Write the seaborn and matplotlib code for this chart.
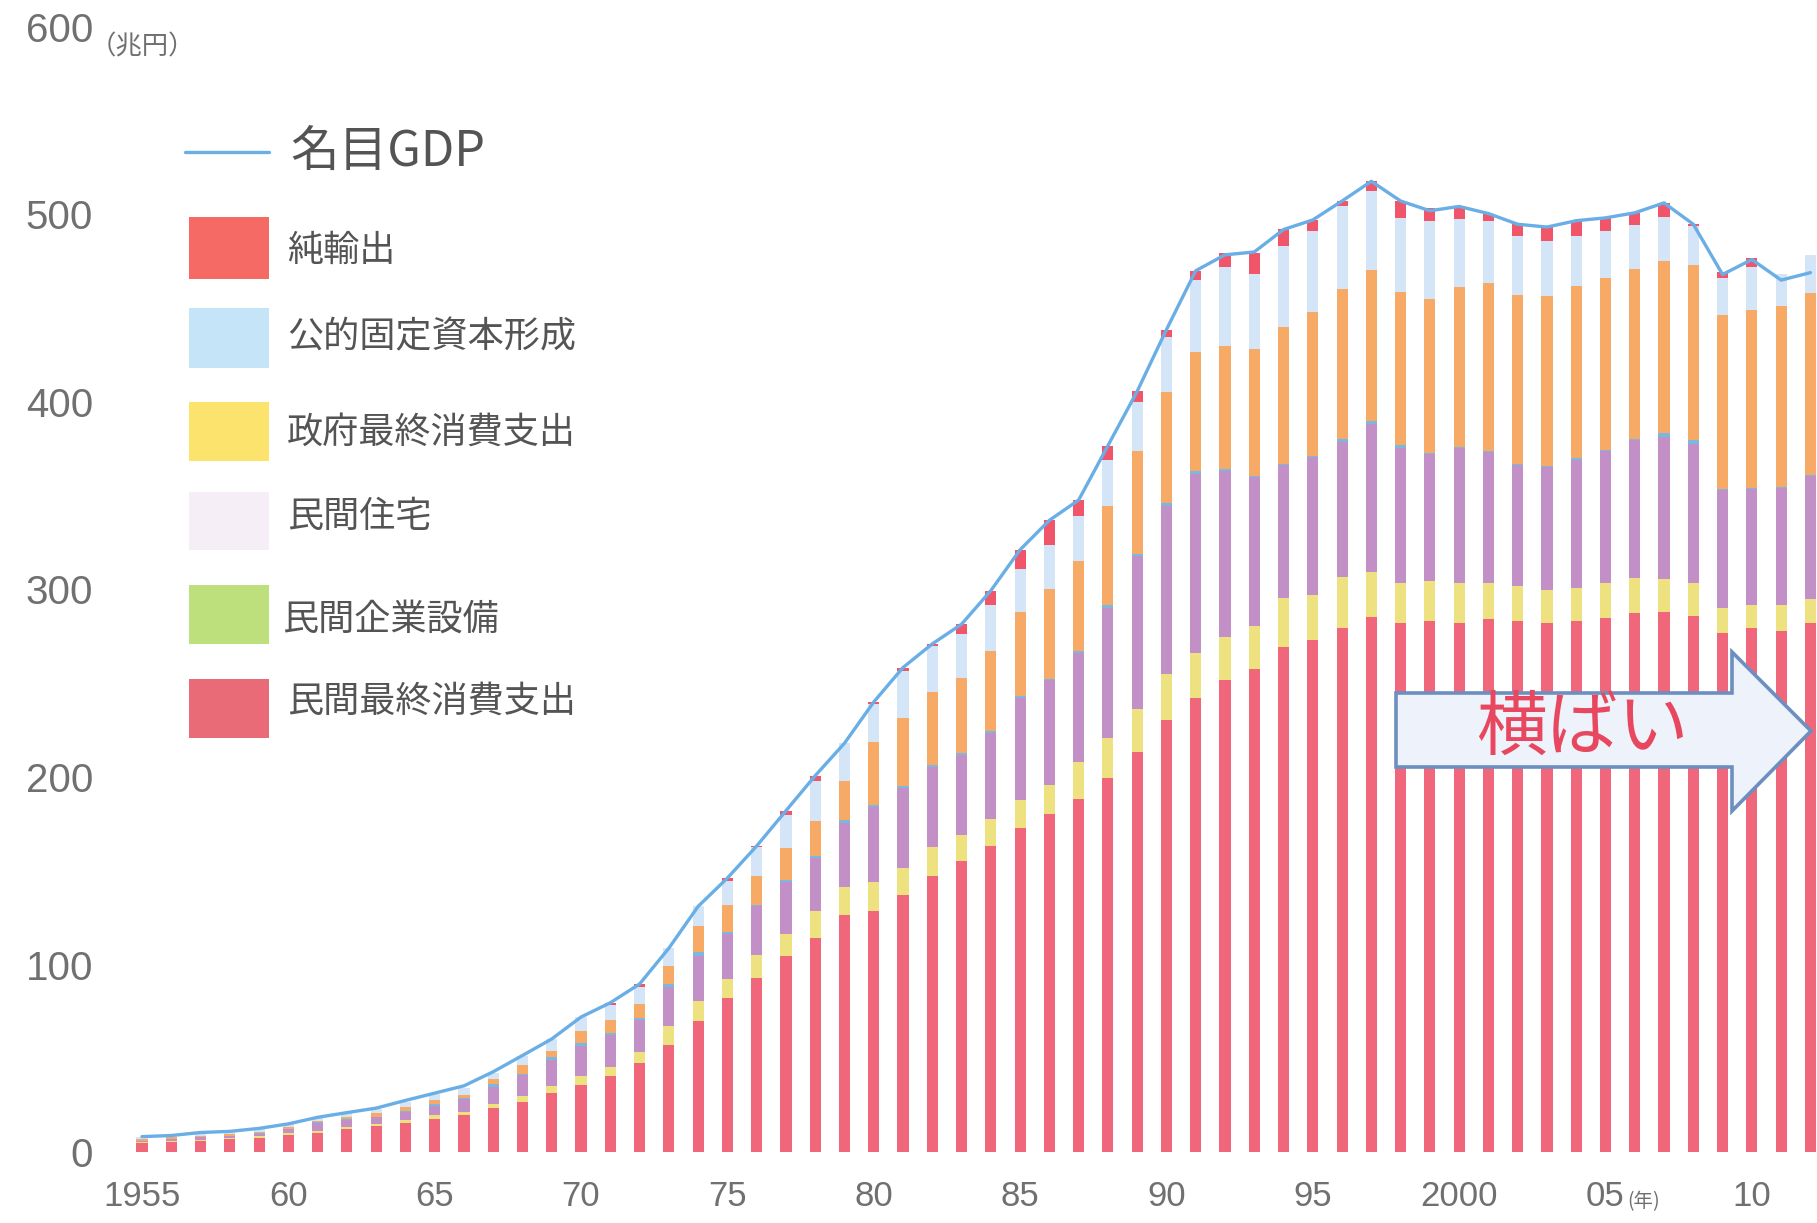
import numpy as np
import matplotlib
matplotlib.use('Agg')
import matplotlib.pyplot as plt
from matplotlib.patches import Rectangle, Polygon
from matplotlib.lines import Line2D
import seaborn as sns

# ---- data (兆円) ----
years = list(range(1955, 2013))

consumption = [5.0, 5.5, 6.0, 7.0, 7.7, 9.1, 10.3, 12.1, 13.9, 15.6,
               17.8, 19.7, 23.3, 26.8, 31.3, 35.7, 40.5, 47.3, 57.1, 70.0,
               82.1, 92.9, 104.6, 114.2, 126.6, 128.4, 137.1, 147.2, 155.1, 163.2,
               172.6, 180.4, 188.3, 199.5, 213.5, 230.5, 242.0, 251.9, 257.6, 269.1,
               272.9, 279.5, 285.3, 282.4, 283.4, 282.4, 284.3, 283.0, 282.0, 283.0,
               284.9, 287.5, 288.1, 285.6, 276.7, 279.5, 278.0, 282.4]
housing = [0.3, 0.4, 0.5, 0.5, 0.6, 0.9, 1.1, 1.1, 1.0, 1.4,
           1.7, 1.8, 2.3, 3.0, 3.9, 4.8, 5.0, 6.2, 10.1, 10.5,
           10.1, 12.4, 11.9, 14.6, 15.0, 15.7, 14.6, 15.3, 14.1, 14.6,
           15.0, 15.3, 19.7, 21.4, 22.6, 24.7, 24.0, 22.9, 22.9, 26.6,
           24.2, 27.1, 23.8, 21.0, 20.9, 21.3, 19.1, 18.8, 17.5, 17.9,
           18.5, 18.7, 17.7, 17.8, 13.3, 12.4, 13.9, 12.4]
business = [0.6, 1.1, 1.3, 1.1, 1.5, 2.1, 3.9, 3.9, 3.7, 4.5,
            5.2, 6.6, 9.2, 11.3, 13.9, 16.2, 16.9, 16.9, 21.0, 24.3,
            24.3, 25.7, 27.4, 28.1, 33.7, 39.7, 42.2, 42.6, 42.7, 45.8,
            54.6, 55.9, 58.4, 69.4, 81.5, 89.3, 95.5, 88.6, 79.4, 70.5,
            73.5, 72.0, 79.0, 71.8, 68.2, 71.5, 69.9, 64.4, 65.8, 68.2,
            70.4, 73.4, 75.7, 74.2, 62.9, 61.9, 62.3, 65.7]
inventory = [0.2, 0.2, 0.3, 0.2, 0.3, 0.4, 0.5, 0.4, 0.3, 0.4,
             1.0, 0.5, 1.4, 0.5, 1.4, 1.6, 1.2, 1.2, 1.4, 2.0,
             1.0, 1.0, 1.0, 1.0, 1.7, 1.2, 1.1, 1.1, 1.0, 1.0,
             1.1, 0.9, 1.0, 1.5, 1.3, 1.8, 1.9, 1.0, 0.6, 0.6,
             0.8, 1.9, 1.5, 2.1, 0.5, 0.6, 0.6, 0.6, 0.6, 0.9,
             0.6, 0.6, 1.9, 1.9, 0.6, 0.6, 0.6, 0.6]
government = [0.8, 0.6, 0.7, 0.7, 0.7, 0.8, 0.7, 1.0, 1.7, 2.3,
              2.2, 1.9, 2.5, 4.8, 3.6, 6.4, 6.8, 7.3, 9.6, 13.7,
              14.2, 15.2, 17.1, 18.5, 21.0, 33.6, 36.6, 39.4, 39.8, 42.7,
              44.9, 47.6, 47.7, 52.5, 54.9, 59.0, 63.4, 65.6, 68.0, 73.1,
              76.7, 79.6, 80.8, 81.3, 82.2, 85.7, 89.5, 90.3, 90.4, 92.0,
              91.8, 90.8, 92.0, 93.4, 92.7, 94.7, 96.2, 97.1]
public_invest = [1.3, 1.0, 1.5, 1.4, 1.8, 1.6, 2.0, 2.1, 2.2, 2.6,
                 2.8, 3.5, 3.6, 4.8, 6.0, 7.1, 8.0, 8.9, 9.5, 10.5,
                 12.8, 15.3, 17.8, 21.3, 20.0, 20.2, 25.2, 24.0, 23.6, 24.3,
                 22.5, 23.6, 24.3, 24.8, 26.2, 29.5, 38.5, 41.9, 40.0, 43.5,
                 42.9, 44.6, 41.9, 39.6, 41.1, 36.2, 33.3, 31.6, 29.4, 26.7,
                 24.8, 23.4, 23.2, 21.0, 20.0, 22.8, 17.0, 20.0]
net_exports = [0, 0, 0, 0, 0, 0, 0, 0, 0, 0,
               0, 0.3, 0, 0, 0, 0, 1.2, 1.8, 0, 0,
               1.6, 0.7, 2.2, 3.0, 0, 1.2, 1.6, 1.4, 5.2, 7.8,
               10.5, 13.2, 8.3, 7.6, 5.7, 3.8, 4.7, 7.3, 10.7, 8.6,
               6.1, 2.5, 5.4, 9.0, 7.1, 6.6, 3.8, 6.1, 7.6, 8.0,
               7.2, 6.5, 7.6, 0.9, 2.9, 4.8, -2.6, -9.0]
gdp = [8.2, 8.8, 10.4, 11.0, 12.6, 15.0, 18.5, 21.0, 23.4, 27.5,
       31.4, 35.3, 42.8, 51.5, 60.3, 72.0, 79.6, 89.6, 108.7, 131.0,
       146.1, 163.2, 182.0, 200.7, 218.0, 240.0, 258.4, 271.0, 281.5, 299.4,
       321.2, 336.9, 347.7, 376.7, 405.7, 438.6, 470.0, 478.5, 480.0, 492.0,
       497.1, 507.2, 517.7, 507.2, 502.0, 504.3, 500.5, 494.8, 493.3, 496.7,
       498.2, 500.9, 506.2, 494.8, 468.0, 476.0, 465.0, 469.0]

tick_years = [1955, 1960, 1965, 1970, 1975, 1980, 1985, 1990, 1995, 2000, 2005, 2010]
tick_labels = ['1955', '60', '65', '70', '75', '80', '85', '90', '95', '2000', '05', '10']
y_ticks = [0, 100, 200, 300, 400, 500, 600]

# bar colours, bottom to top of the stack
bar_colors = ['#f0677c', '#ede27f', '#c290c6', '#7ab8e0', '#f7aa66', '#d3e5f7', '#f1556a']
line_color = '#6aaee6'

legend_labels = ['純輸出', '公的固定資本形成', '政府最終消費支出', '民間住宅', '民間企業設備', '民間最終消費支出']
legend_colors = ['#f56a64', '#c5e4f8', '#fce36e', '#f5eef6', '#bde07c', '#e96b78']

W, H = 1817, 1223
sns.set_style('white')
plt.rcParams['font.family'] = ['Liberation Sans', 'Noto Sans CJK JP', 'DejaVu Sans']
cjk = ['Noto Sans CJK JP', 'DejaVu Sans']
grey = '#707070'
dark = '#545454'


def fx(x):
    return x / W


def fy(y):
    return 1 - y / H


fig = plt.figure(figsize=(W / 100, H / 100), dpi=100)
ax = fig.add_axes([fx(100), fy(1152), 1 - fx(100), (1152 - 27) / H])

layers = np.array([consumption, housing, business, inventory, government, public_invest, net_exports])
tops = np.cumsum(layers, axis=0)
# draw cumulative totals from the top layer down, each covering the one above
for i in range(len(layers) - 1, -1, -1):
    sns.barplot(x=years, y=tops[i], native_scale=True, width=0.38, color=bar_colors[i],
                saturation=1, errorbar=None, linewidth=0, ax=ax)

sns.lineplot(x=years, y=gdp, color=line_color, linewidth=2.4, ax=ax, zorder=5)

ax.set_xlim(1953.565, 2012.226)
ax.set_ylim(0, 600)
ax.set_xticks(tick_years)
ax.set_xticklabels(tick_labels, fontsize=25, color=grey,
                   family=['Liberation Sans Narrow', 'Liberation Sans'])
ax.set_yticks(y_ticks)
ax.set_yticklabels([str(v) for v in y_ticks], fontsize=29, color=grey)
ax.tick_params(axis='x', length=0, pad=20)
ax.tick_params(axis='y', length=0, pad=5)
ax.set_xlabel('')
ax.set_ylabel('')
sns.despine(ax=ax, left=True, bottom=True)

fig.text(fx(90), fy(47), '（兆円）', fontsize=19, color=grey, va='center', ha='left', family=cjk)
fig.text(fx(1627), fy(1202), '(年)', fontsize=14, color=grey, va='center', ha='left', family=cjk)

# legend
fig.add_artist(Line2D([fx(185), fx(269)], [fy(152), fy(152)], transform=fig.transFigure,
                      color=line_color, lw=2.4))
fig.text(fx(290), fy(152), '名目GDP', fontsize=35, color=dark, va='center', ha='left', family=cjk)
patch_top = [217, 308, 402, 492, 585, 679]
patch_bot = [279, 368, 461, 550, 644, 738]
text_x = [287, 287, 287, 287, 282, 287]
text_y = [251, 337, 433, 517, 620, 702]
for lab, col, t, b, tx, ty in zip(legend_labels, legend_colors, patch_top, patch_bot, text_x, text_y):
    fig.add_artist(Rectangle((fx(189), fy(b)), fx(269) - fx(189), (b - t) / H,
                             transform=fig.transFigure, facecolor=col, edgecolor='none'))
    fig.text(fx(tx), fy(ty), lab, fontsize=26, color=dark, va='center', ha='left', family=cjk)

# 横ばい arrow
arrow_pts = [(1396, 693), (1732, 693), (1732, 652), (1811, 731), (1732, 811), (1732, 767), (1396, 767)]
fig.add_artist(Polygon([(fx(x), fy(y)) for x, y in arrow_pts], closed=True, transform=fig.transFigure,
                       facecolor='#eef2fa', edgecolor='#6d8fc0', lw=2.6, zorder=10))
fig.text(fx(1582), fy(728), '横ばい', fontsize=51, color='#e8485f', ha='center', va='center',
         family=cjk, zorder=11)

fig.savefig('out.png', dpi=100)
